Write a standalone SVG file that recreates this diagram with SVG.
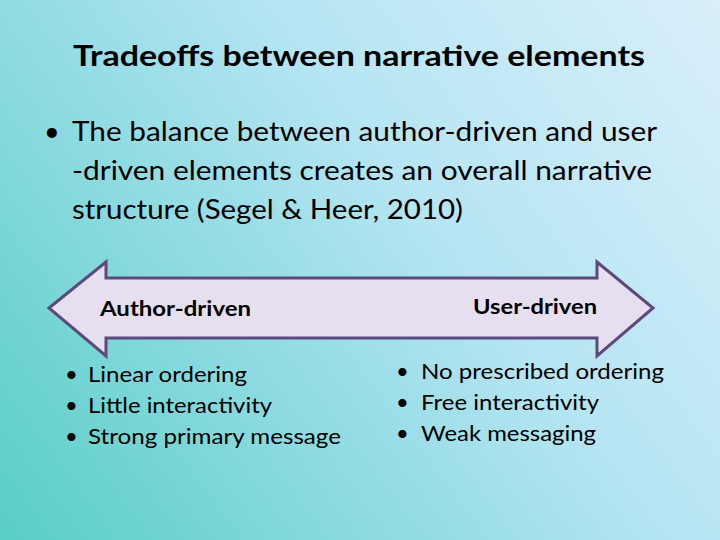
<svg xmlns="http://www.w3.org/2000/svg" width="720" height="540" viewBox="0 0 720 540">
<defs>
<linearGradient id="bg" x1="0" y1="540" x2="720" y2="0" gradientUnits="userSpaceOnUse">
<stop offset="0" stop-color="#58cec4"/>
<stop offset="0.35" stop-color="#8fdbe2"/>
<stop offset="0.6" stop-color="#b6e5f3"/>
<stop offset="1" stop-color="#d9effb"/>
</linearGradient>
<style>
text{font-family:Lato,"Open Sans","Liberation Sans",sans-serif;fill:#000}
.title{font-size:29px;font-weight:bold}
.body{font-size:27px}
.lbl{font-size:21px;font-weight:bold}
.item{font-size:22px}
.arrow{fill:#e6dfef;stroke:#5d4a7c;stroke-width:3;stroke-linejoin:miter}
</style>
</defs>
<rect width="720" height="540" fill="url(#bg)"/>
<g id="title">
<text class="title" x="73" y="66" textLength="572" lengthAdjust="spacingAndGlyphs">Tradeoffs between narrative elements</text>
</g>
<g id="body">
<text class="body" x="44" y="141">•</text>
<text class="body" x="72" y="141" textLength="585" lengthAdjust="spacingAndGlyphs">The balance between author-driven and user</text>
<text class="body" x="72" y="180" textLength="580" lengthAdjust="spacingAndGlyphs">-driven elements creates an overall narrative</text>
<text class="body" x="72" y="219" textLength="391" lengthAdjust="spacingAndGlyphs">structure (Segel &amp; Heer, 2010)</text>
</g>
<g id="connectors">
<path class="arrow" d="M49,308 L106,262 L106,278 L597,278 L597,262 L653,308 L597,356 L597,338 L106,338 L106,356 Z"/>
</g>
<g id="author">
<text class="lbl" x="100" y="316" textLength="151" lengthAdjust="spacingAndGlyphs">Author-driven</text>
<text class="item" x="65" y="382">•</text>
<text class="item" x="88" y="382" textLength="159" lengthAdjust="spacingAndGlyphs">Linear ordering</text>
<text class="item" x="65" y="413">•</text>
<text class="item" x="88" y="413" textLength="184" lengthAdjust="spacingAndGlyphs">Little interactivity</text>
<text class="item" x="65" y="444">•</text>
<text class="item" x="88" y="444" textLength="253" lengthAdjust="spacingAndGlyphs">Strong primary message</text>
</g>
<g id="user">
<text class="lbl" x="473" y="314" textLength="124" lengthAdjust="spacingAndGlyphs">User-driven</text>
<text class="item" x="396" y="379">•</text>
<text class="item" x="421" y="379" textLength="243" lengthAdjust="spacingAndGlyphs">No prescribed ordering</text>
<text class="item" x="396" y="410">•</text>
<text class="item" x="421" y="410" textLength="178" lengthAdjust="spacingAndGlyphs">Free interactivity</text>
<text class="item" x="396" y="441">•</text>
<text class="item" x="421" y="441" textLength="175" lengthAdjust="spacingAndGlyphs">Weak messaging</text>
</g>
</svg>
